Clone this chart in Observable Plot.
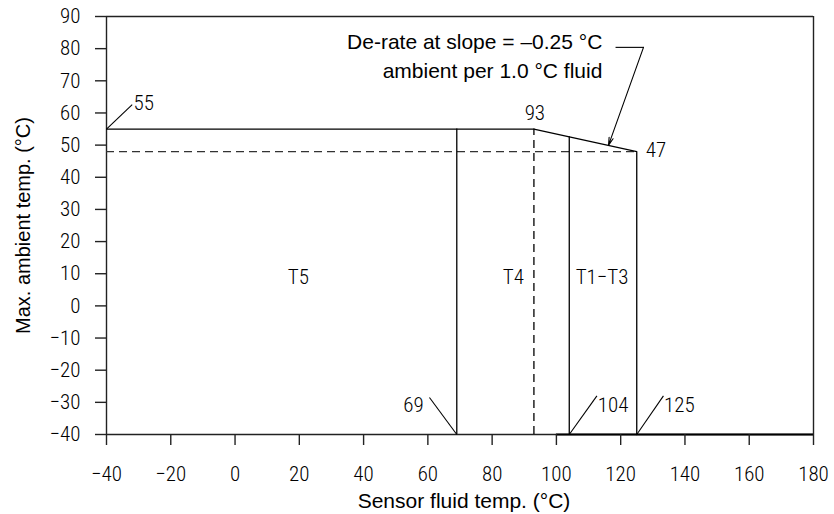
<!DOCTYPE html>
<html>
<head>
<meta charset="utf-8">
<script src="https://cdn.jsdelivr.net/npm/d3@7"></script>
<script src="https://cdn.jsdelivr.net/npm/@observablehq/plot@0.6"></script>
<style>
  html, body { margin: 0; padding: 0; background: white; }
</style>
</head>
<body>
<div id="chart"></div>
<script>
// ---- data ----
const xTicks = [-40, -20, 0, 20, 40, 60, 80, 100, 120, 140, 160, 180];
const yTicks = [-40, -30, -20, -10, 0, 10, 20, 30, 40, 50, 60, 70, 80, 90];

// limit boundary (solid)
const limitX = [-40, 93, 125, 125];
const limitY = [55, 55, 48, -40];

// zone dividers (solid verticals)
const zoneX = [69, 104];
const zoneTopY = [55, 52.6];

// dashed lines
const deratedY = 48;
const deratedXEnd = 125;
const dashX = 93;
const dashTopY = 55;

// point labels
const pointLabels = ["55", "93", "47", "69", "104", "125"];
const pointLabelX = [-31.6, 93.3, 127.8, 58.7, 112.9, 133.5];
const pointLabelY = [63, 60, 48.3, -31, -31, -31];
const pointLabelAnchor = ["start", "middle", "start", "end", "start", "start"];

// leader lines for point labels
const leaderX1 = [-40, 69, 104, 125];
const leaderY1 = [55, -40, -40, -40];
const leaderX2 = [-32.0, 60.5, 112.6, 133.3];
const leaderY2 = [62.6, -28.5, -28, -28];

// zone labels
const zoneNames = ["T5", "T4", "T1\u2212T3"];
const zoneLabelX = [19.7, 86.6, 114.2];
const zoneLabelY = [9, 9, 9];

// annotation
const noteLines = ["De-rate at slope = \u20130.25 \u00B0C", "ambient per 1.0 \u00B0C fluid"];
const noteX = 114.3;
const noteY = [81.9, 72.9];
const noteLeaderX = [118.4, 127.1];
const noteLeaderY = 80.4;
const noteArrowTip = [116.2, 49.9];

const xLabel = "Sensor fluid temp. (\u00B0C)";
const yLabel = "Max. ambient temp. (\u00B0C)";

// ---- tables ----
const limitPts = limitX.map((x, i) => ({x, y: limitY[i]}));
const zones = zoneX.map((x, i) => ({x, top: zoneTopY[i]}));
const labels = pointLabels.map((t, i) => ({t, x: pointLabelX[i], y: pointLabelY[i], a: pointLabelAnchor[i]}));
const leaders = leaderX1.map((x1, i) => ({x1, y1: leaderY1[i], x2: leaderX2[i], y2: leaderY2[i]}));
const zoneLabs = zoneNames.map((t, i) => ({t, x: zoneLabelX[i], y: zoneLabelY[i]}));
const notes = noteLines.map((t, i) => ({t, y: noteY[i]}));

const narrow = "'Roboto Condensed', 'DejaVu Sans Condensed', sans-serif";
const sans = "'Liberation Sans', Arial, Helvetica, sans-serif";
const frameColor = "#222";
const nw = 300;

const chart = Plot.plot({
  width: 834,
  height: 514,
  marginLeft: 106,
  marginRight: 21,
  marginTop: 16,
  marginBottom: 80,
  x: {domain: [-40, 180]},
  y: {domain: [-40, 90]},
  style: {background: "white", fontFamily: narrow, fontSize: "21px", color: "black"},
  marks: [
    // frame
    Plot.ruleX([-40], {y1: -40, y2: 90, stroke: frameColor, strokeWidth: 1.4}),
    Plot.ruleX([180], {y1: -40, y2: 90, stroke: frameColor, strokeWidth: 1.4}),
    Plot.ruleY([-40], {x1: -40, x2: 180, stroke: frameColor, strokeWidth: 1.4}),
    Plot.ruleY([-40], {x1: 100, x2: 180, stroke: "black", strokeWidth: 2}),
    Plot.ruleY([90], {x1: -40, x2: 180, stroke: frameColor, strokeWidth: 1.4}),
    // axes
    Plot.axisX(xTicks, {tickSize: 11, tickPadding: 21, label: null, stroke: frameColor, strokeWidth: 1.4, fontFamily: narrow, fontSize: 21, fontWeight: nw}),
    Plot.axisY(yTicks, {tickSize: 11, tickPadding: 15, label: null, stroke: frameColor, strokeWidth: 1.4, fontFamily: narrow, fontSize: 21, fontWeight: nw}),
    // axis labels
    Plot.text([xLabel], {frameAnchor: "bottom", lineAnchor: "middle", textAnchor: "middle", dy: 67, dx: 4, text: d => d, fontFamily: sans, fontSize: 21, fill: "black"}),
    Plot.text([yLabel], {frameAnchor: "left", lineAnchor: "middle", textAnchor: "middle", dx: -83, rotate: -90, text: d => d, fontFamily: sans, fontSize: 20, fill: "black"}),
    // dashed lines
    Plot.ruleY([deratedY], {x1: -40, x2: deratedXEnd, stroke: "#333", strokeWidth: 1.3, strokeDasharray: "8,5"}),
    Plot.ruleX([dashX], {y1: -40, y2: dashTopY, stroke: "black", strokeWidth: 1.3, strokeDasharray: "8,5"}),
    // zone dividers
    Plot.ruleX(zones, {x: "x", y1: -40, y2: "top", stroke: "black", strokeWidth: 1.3}),
    // limit line
    Plot.line(limitPts, {x: "x", y: "y", stroke: "black", strokeWidth: 1.3}),
    // leaders
    Plot.link(leaders, {x1: "x1", y1: "y1", x2: "x2", y2: "y2", stroke: "black", strokeWidth: 1.1}),
    // point labels
    Plot.text(labels.filter(d => d.a === "start"), {x: "x", y: "y", text: "t", textAnchor: "start", fontFamily: narrow, fontSize: 21, fontWeight: nw, fill: "black"}),
    Plot.text(labels.filter(d => d.a === "middle"), {x: "x", y: "y", text: "t", textAnchor: "middle", fontFamily: narrow, fontSize: 21, fontWeight: nw, fill: "black"}),
    Plot.text(labels.filter(d => d.a === "end"), {x: "x", y: "y", text: "t", textAnchor: "end", fontFamily: narrow, fontSize: 21, fontWeight: nw, fill: "black"}),
    // zone labels
    Plot.text(zoneLabs, {x: "x", y: "y", text: "t", fontFamily: narrow, fontSize: 21, fontWeight: nw, fill: "black"}),
    // annotation
    Plot.text(notes, {x: noteX, y: "y", text: "t", textAnchor: "end", fontFamily: sans, fontSize: 21, fill: "black"}),
    Plot.link([0], {x1: noteLeaderX[0], x2: noteLeaderX[1], y1: noteLeaderY, y2: noteLeaderY, stroke: "black", strokeWidth: 1.1}),
    Plot.arrow([0], {x1: noteLeaderX[1], y1: noteLeaderY, x2: noteArrowTip[0], y2: noteArrowTip[1], stroke: "black", strokeWidth: 1.1, headLength: 11, headAngle: 30})
  ]
});
document.getElementById("chart").appendChild(chart);
</script>
</body>
</html>
